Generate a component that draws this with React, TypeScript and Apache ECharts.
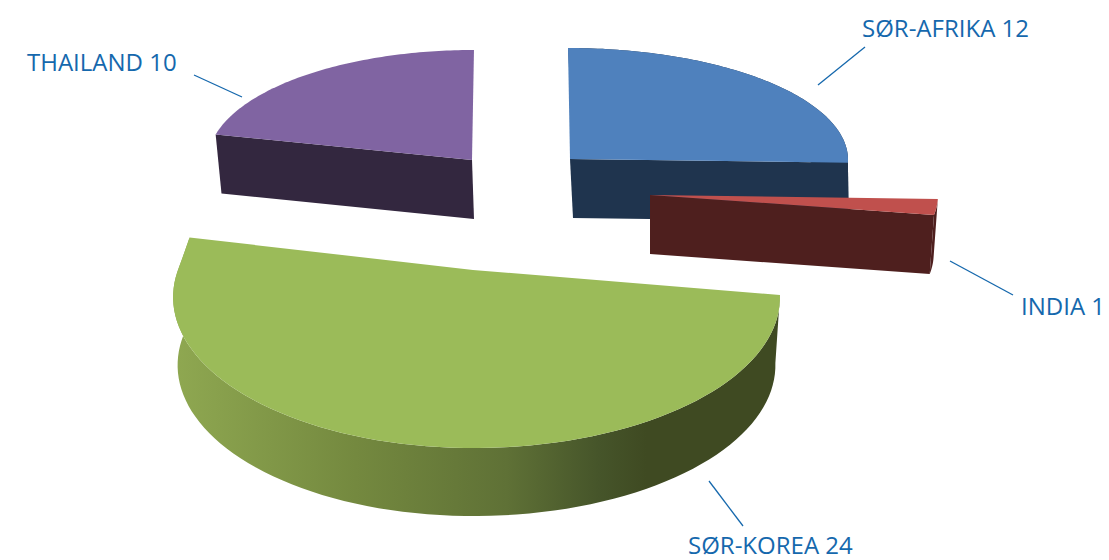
import React, { useEffect, useRef } from "react";
import * as echarts from "echarts";

const categories = ["SØR-AFRIKA", "INDIA", "SØR-KOREA", "THAILAND"];
const values = [12, 1, 24, 10];
const topColors = ["#4f81bd", "#c0504d", "#9bbb59", "#8064a2"];
const wallColors = ["#1f344e", "#4e1f1e", "#3f4a22", "#33273f"];
const FONT = "'Open Sans', Lato, sans-serif";
const INK = "#1568ad";

// Projection of each exploded wedge: apex (cx, cy), radii, perspective k, wall depth,
// skew of the wedge, which walls face the viewer.
const wedgeLayout = [
  { cx: 570, cy: 159, rx: 278, rxLeft: 278, back: 0, ry: 111, k: 0, depth: 59, skew: 0.018, dx: 3, shrink: 0.992, cut: "end", arc: true },
  { cx: 650, cy: 195, rx: 288, rxLeft: 288, back: 0, ry: 120, k: 0, depth: 59, skew: 0, dx: 0, shrink: 0.985, cut: "end", arc: true },
  { cx: 473, cy: 270, rx: 302, rxLeft: 295, back: 148, ry: 146, k: 0.18, depth: 68, skew: 0, dx: 0, shrink: 0.985, cut: "none", arc: true },
  { cx: 472, cy: 160, rx: 264, rxLeft: 264, back: 0, ry: 110, k: 0, depth: 59, skew: -0.018, dx: 2, shrink: 0.985, cut: "start", arc: false },
];
const labelLayout = [
  { x: 862, y: 27, line: [865, 47, 818, 85] },
  { x: 1021, y: 305, line: [950, 261, 1013, 295] },
  { x: 688, y: 544, line: [709, 481, 743, 526] },
  { x: 27, y: 61, line: [194, 75, 242, 97] },
];

const total = values.reduce((a, b) => a + b, 0);

function App() {
  const ref = useRef<HTMLDivElement>(null);
  useEffect(() => {
    const chart = echarts.init(ref.current!, undefined, { renderer: "svg" });
    const renderItem = (params: any, api: any) => {
      const i = params.dataIndex;
      const value = api.value(0);
      const before = values.slice(0, i).reduce((a, b) => a + b, 0);
      const a0 = (before / total) * Math.PI * 2;
      const a1 = ((before + value) / total) * Math.PI * 2;
      const g = wedgeLayout[i];
      const top = (t: number) => {
        const s = 1 / (1 + g.k * Math.cos(t));
        const y = g.cy - g.ry * Math.cos(t) * s;
        const sn = Math.sin(t);
        const r = sn < 0 ? g.rxLeft : g.rx;
        const c = Math.max(0, Math.cos(t));
        return [g.cx + r * sn * s + g.skew * (y - g.cy) - g.back * c * c, y];
      };
      const down = (p: number[]) => [
        g.cx + (p[0] - g.cx) * g.shrink + g.dx,
        p[1] + g.depth,
      ];
      const N = 90;
      const rim: number[][] = [];
      const rimDown: number[][] = [];
      for (let n = 0; n <= N; n++) {
        const t = a0 + ((a1 - a0) * n) / N;
        const p = top(t);
        rim.push(p);
        rimDown.push(down(p));
      }
      const apex = [g.cx, g.cy];
      const apexDown = down(apex);
      const children: any[] = [];
      const wallFill =
        i === 2
          ? new echarts.graphic.LinearGradient(0, 0, 1, 0, [
              { offset: 0, color: "#8fa851" },
              { offset: 0.3, color: "#74893f" },
              { offset: 0.55, color: "#5f7136" },
              { offset: 0.7, color: "#46552a" },
              { offset: 0.78, color: "#3f4a22" },
              { offset: 1, color: "#3f4a22" },
            ])
          : wallColors[i];
      if (g.arc) {
        children.push({
          type: "polygon",
          shape: { points: [...rim, ...rimDown.slice().reverse()] },
          style: { fill: wallFill },
        });
      }
      if (g.cut === "end") {
        children.push({
          type: "polygon",
          shape: { points: [apex, rim[N], rimDown[N], apexDown] },
          style: { fill: wallColors[i] },
        });
      }
      if (g.cut === "start") {
        children.push({
          type: "polygon",
          shape: { points: [apex, rim[0], rimDown[0], apexDown] },
          style: { fill: wallColors[i] },
        });
      }
      children.push({
        type: "polygon",
        shape: { points: [apex, ...rim] },
        style: { fill: topColors[i] },
      });
      const l = labelLayout[i];
      children.push({
        type: "line",
        shape: { x1: l.line[0], y1: l.line[1], x2: l.line[2], y2: l.line[3] },
        style: { stroke: INK, lineWidth: 1.3 },
      });
      children.push({
        type: "text",
        x: l.x,
        y: l.y,
        style: {
          text: `${categories[i]} ${value}`,
          fill: INK,
          font: `400 24px ${FONT}`,
          verticalAlign: "middle",
          align: "left",
        },
      });
      return { type: "group", children };
    };
    chart.setOption({
      animation: false,
      backgroundColor: "#ffffff",
      series: [
        {
          type: "custom",
          coordinateSystem: "none",
          renderItem,
          data: values.map((v, i) => ({ name: categories[i], value: [v] })),
          silent: true,
        },
      ],
    });
    return () => chart.dispose();
  }, []);
  return (
    <div
      ref={ref}
      style={{ position: "fixed", left: 0, top: 0, width: 1109, height: 560 }}
    />
  );
}

export default App;
